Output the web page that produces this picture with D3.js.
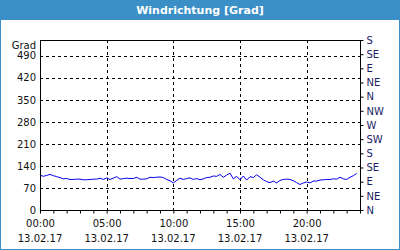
<!DOCTYPE html>
<html lang="de">
<head>
  <meta charset="utf-8" />
  <title>Windrichtung [Grad]</title>
  <script src="https://cdn.jsdelivr.net/npm/d3@7"></script>
  <style>
    body { margin: 0; }
    text { font-family: "DejaVu Sans", Verdana, sans-serif; }
  </style>
</head>
<body>
<script>
  // Messwerte Windrichtung, alle 15 Minuten ab 13.02.17 00:00
  var startTime = "2017-02-13T00:00:00";
  var stepMinutes = 15;
  var windDir = [
    111, 107, 110, 113, 109, 106, 103, 99, 100, 97, 97, 98,
    98, 96, 96, 97, 98, 98, 101, 97, 102, 97, 101, 106,
    98, 100, 101, 100, 100, 104, 98, 98, 99, 104, 103, 104,
    105, 103, 97, 93, 86, 94, 101, 97, 100, 102, 97, 100,
    96, 99, 103, 104, 108, 107, 113, 104, 111, 117, 99, 107,
    96, 108, 95, 106, 103, 112, 104, 96, 90, 87, 92, 86,
    94, 97, 98, 97, 93, 87, 81, 86, 89, 86, 92, 92,
    95, 96, 97, 97, 99, 98, 104, 99, 97, 104, 109, 116
  ];

  var leftTicks = [0, 70, 140, 210, 280, 350, 420, 490];
  var rightTicks = [0, 45, 90, 135, 180, 225, 270, 315, 360, 405, 450, 495, 540];
  var compass = ["N", "NE", "E", "SE", "S", "SW", "W", "NW", "N", "NE", "E", "SE", "S"];
  var xLabelHours = [0, 5, 10, 15, 20];
  var dateLabel = "13.02.17";

  var w = 400, h = 250;
  var m = {top: 40, right: 40, bottom: 40, left: 40};
  var blue = "#3a8fc6";

  var svg = d3.select("body").append("svg")
      .attr("width", w)
      .attr("height", h);

  // rahmen + titelbalken
  svg.append("rect")
      .attr("x", 0.5).attr("y", 0.5)
      .attr("width", w - 1).attr("height", h - 1)
      .attr("fill", "white")
      .attr("stroke", blue);
  svg.append("rect")
      .attr("x", 0).attr("y", 0)
      .attr("width", w).attr("height", 20)
      .attr("fill", blue);
  svg.append("text")
      .attr("x", w / 2).attr("y", 14)
      .attr("text-anchor", "middle")
      .attr("font-size", "11px")
      .attr("font-weight", "bold")
      .attr("fill", "white")
      .text("Windrichtung [Grad]");

  var t0 = new Date(startTime);
  var data = windDir.map(function(v, i) {
    return {t: new Date(t0.getTime() + i * stepMinutes * 60000), v: v};
  });

  var x = d3.scaleTime()
      .domain([t0, d3.timeHour.offset(t0, 24)])
      .range([m.left, w - m.right]);
  var y = d3.scaleLinear()
      .domain([0, 540])
      .range([h - m.bottom, m.top]);

  // gitter
  svg.append("g").selectAll("line")
      .data(leftTicks.filter(function(d) { return d > 0; }))
      .enter().append("line")
      .attr("x1", m.left).attr("x2", w - m.right)
      .attr("y1", function(d) { return Math.round(y(d)) + 0.5; })
      .attr("y2", function(d) { return Math.round(y(d)) + 0.5; })
      .attr("stroke", "#000")
      .attr("stroke-dasharray", "3,3");
  svg.append("g").selectAll("line")
      .data(xLabelHours.filter(function(d) { return d > 0; }))
      .enter().append("line")
      .attr("x1", function(d) { return Math.round(x(d3.timeHour.offset(t0, d))) + 0.5; })
      .attr("x2", function(d) { return Math.round(x(d3.timeHour.offset(t0, d))) + 0.5; })
      .attr("y1", m.top).attr("y2", h - m.bottom)
      .attr("stroke", "#000")
      .attr("stroke-dasharray", "3,3");

  // linie
  var line = d3.line()
      .x(function(d) { return x(d.t); })
      .y(function(d) { return y(d.v); });
  svg.append("path")
      .datum(data)
      .attr("d", line)
      .attr("fill", "none")
      .attr("stroke", "#0000ee")
      .attr("stroke-width", 1);

  // rahmen plot
  svg.append("rect")
      .attr("x", m.left + 0.5).attr("y", m.top + 0.5)
      .attr("width", w - m.left - m.right).attr("height", h - m.top - m.bottom)
      .attr("fill", "none")
      .attr("stroke", "#000");

  // achsen
  var xAxis = svg.append("g")
      .attr("transform", "translate(0," + (h - m.bottom + 0.5) + ")")
      .call(d3.axisBottom(x)
        .ticks(d3.timeHour.every(1))
        .tickSize(3)
        .tickPadding(6)
        .tickFormat(function(d) {
          return xLabelHours.indexOf(d.getHours()) >= 0 && d < x.domain()[1] ? d3.timeFormat("%H:%M")(d) : "";
        }));
  xAxis.select(".domain").remove();
  xAxis.selectAll("text").attr("font-size", "10px").attr("fill", "#111");

  svg.append("g").selectAll("text")
      .data(xLabelHours)
      .enter().append("text")
      .attr("x", function(d) { return x(d3.timeHour.offset(t0, d)); })
      .attr("y", 242)
      .attr("text-anchor", "middle")
      .attr("font-size", "10px")
      .attr("fill", "#111")
      .text(dateLabel);

  var yAxis = svg.append("g")
      .attr("transform", "translate(" + (m.left - 1) + ",0)")
      .call(d3.axisLeft(y).tickValues(leftTicks).tickSize(0).tickPadding(3));
  yAxis.select(".domain").remove();
  yAxis.selectAll("text").attr("font-size", "10px").attr("fill", "#111");

  svg.append("text")
      .attr("x", m.left - 4).attr("y", 49)
      .attr("text-anchor", "end")
      .attr("font-size", "10px")
      .attr("fill", "#111")
      .text("Grad");

  var rAxis = svg.append("g")
      .attr("transform", "translate(" + (w - m.right + 0.5) + ",0)")
      .call(d3.axisRight(y).tickValues(rightTicks).tickSize(3).tickPadding(3)
        .tickFormat(function(d, i) { return compass[i]; }));
  rAxis.select(".domain").remove();
  rAxis.selectAll("text").attr("font-size", "10px").attr("fill", "#1c1c66");
</script>
</body>
</html>
